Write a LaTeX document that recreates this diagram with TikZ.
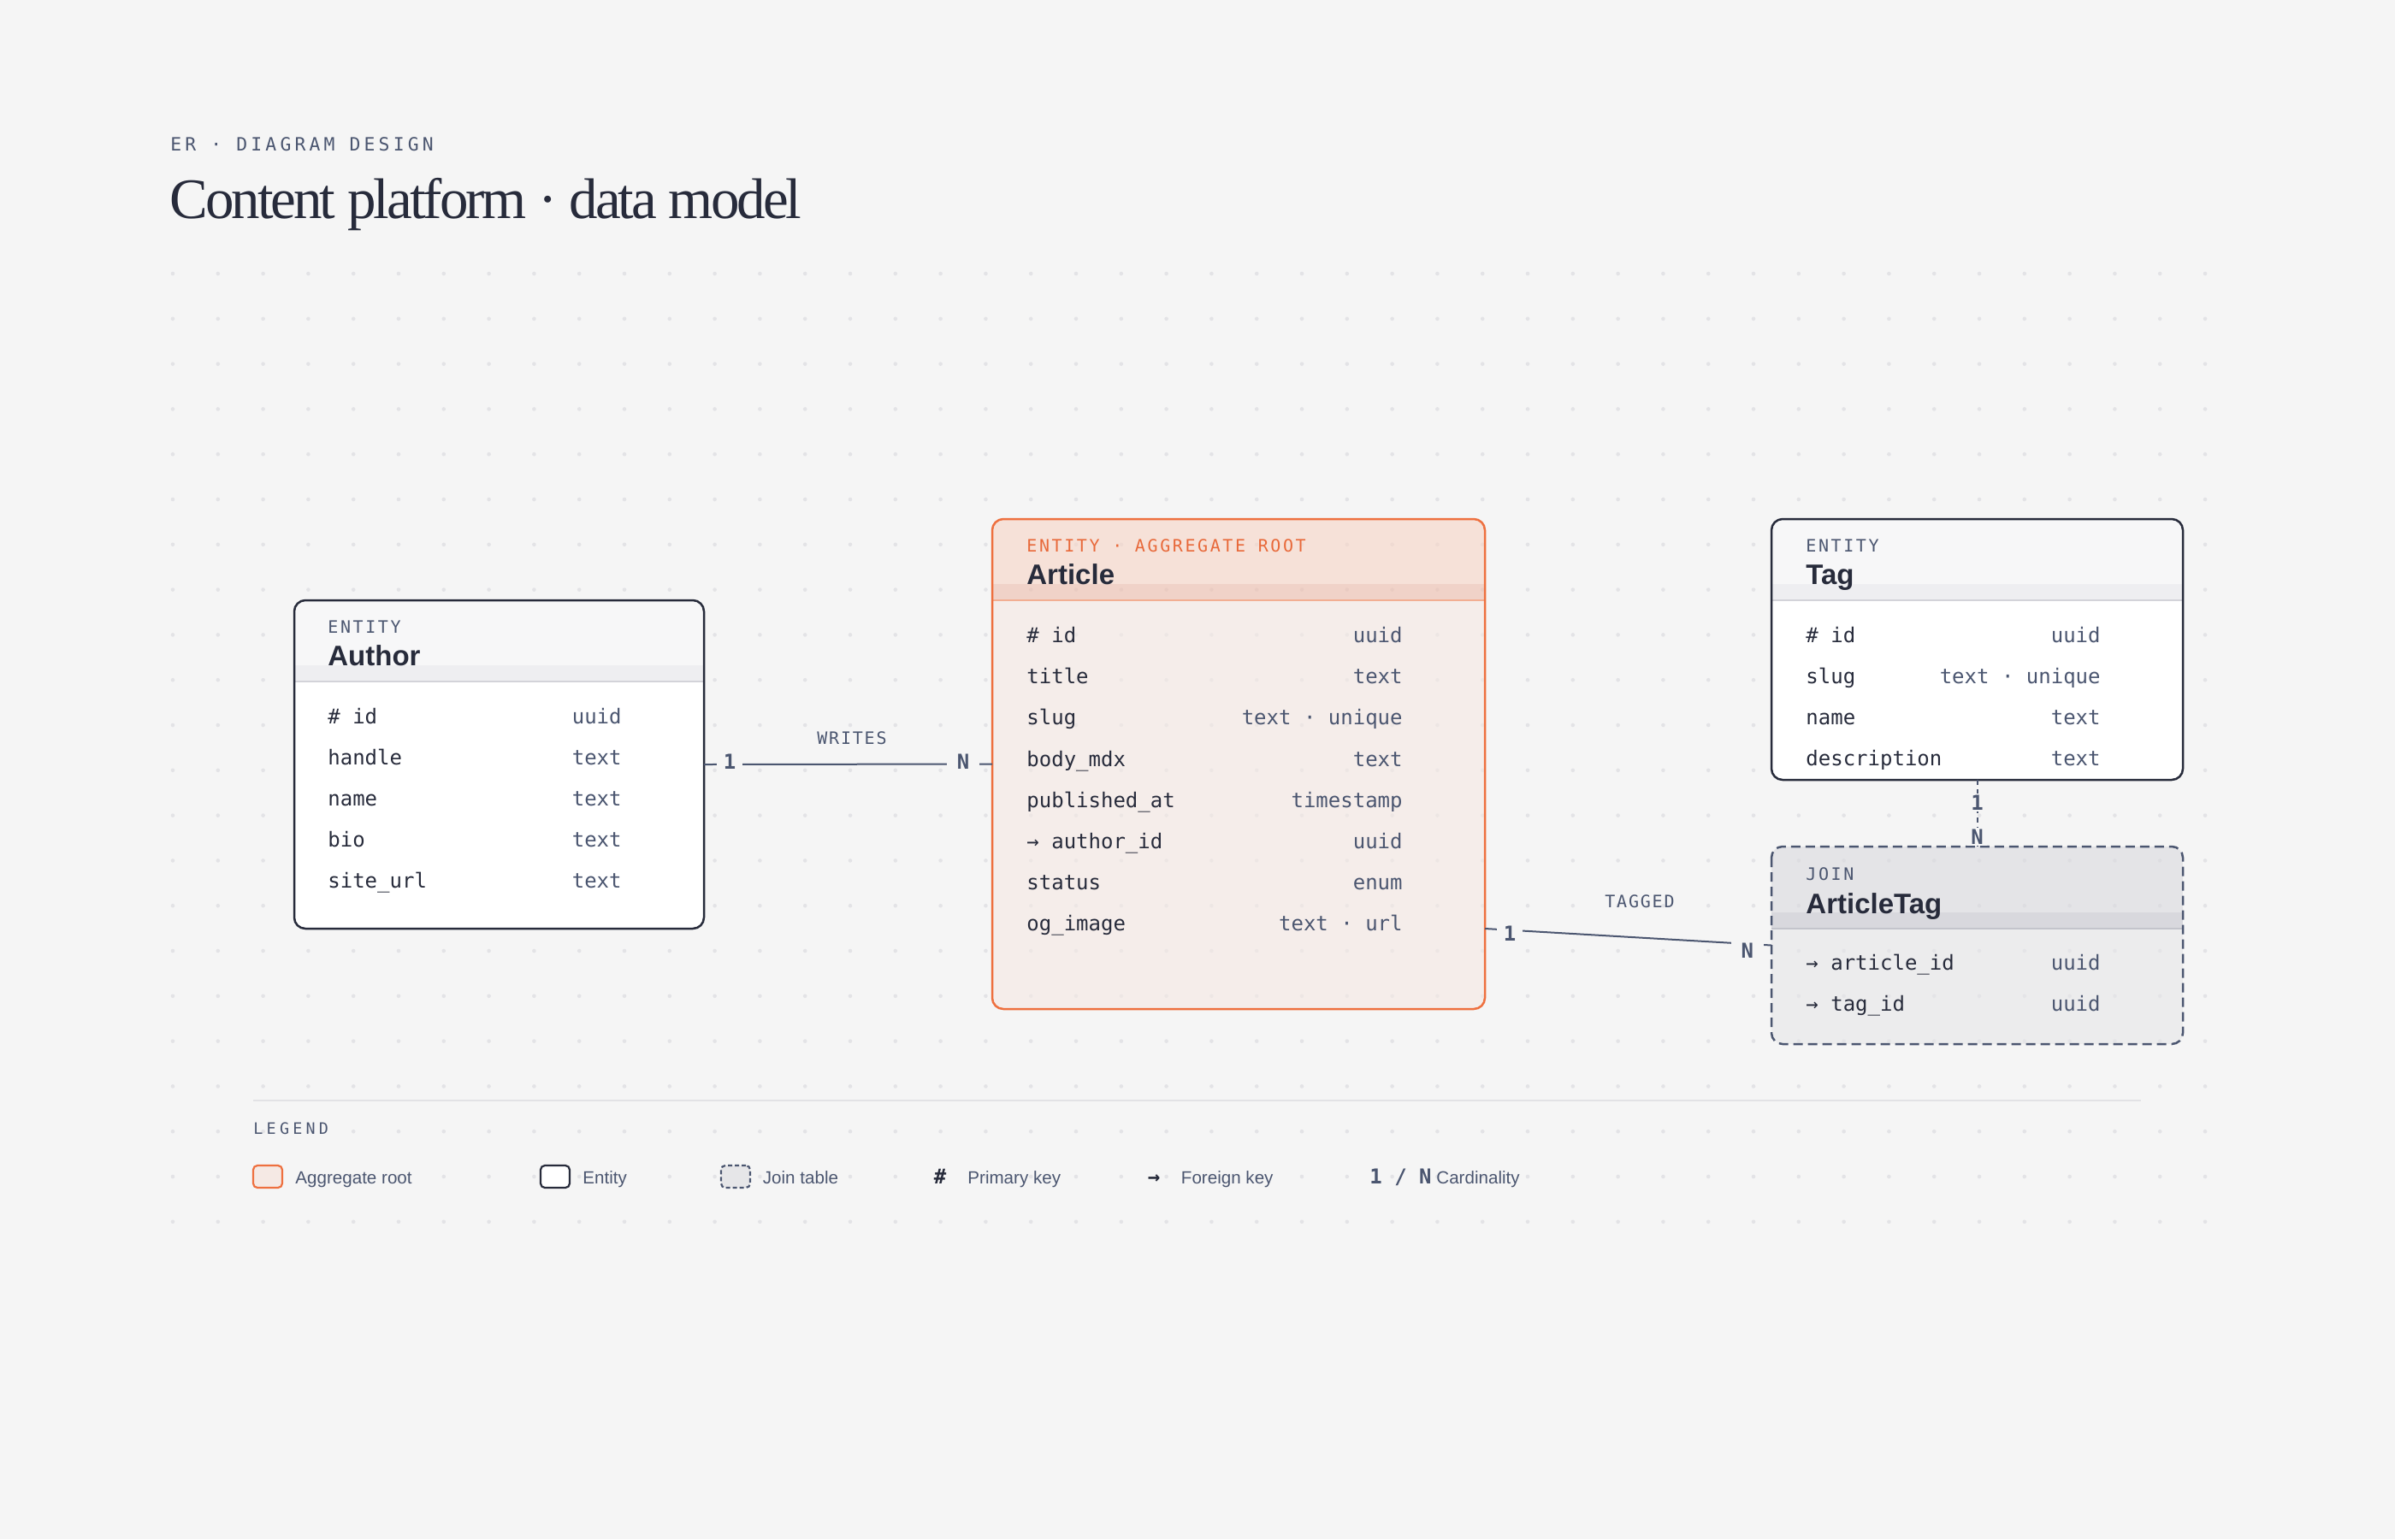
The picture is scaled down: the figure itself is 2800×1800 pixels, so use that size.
\documentclass[tikz,border=0pt]{standalone}
\usepackage{fontspec}
\setmainfont{Liberation Serif}
\setsansfont{Liberation Sans}
\setmonofont{DejaVu Sans Mono}
\usetikzlibrary{calc,positioning}
\definecolor{paper}{HTML}{F5F5F5}
\definecolor{griddot}{HTML}{E3E3E6}
\definecolor{ink}{HTML}{272B3B}
\definecolor{slate}{HTML}{4B5670}
\definecolor{rootline}{HTML}{EE703F}
\definecolor{roottext}{HTML}{E8693A}
\definecolor{roothdr}{HTML}{F7D4C5}
\definecolor{rootband}{HTML}{EEBCAA}
\definecolor{rootbody}{HTML}{F5E9E4}
\definecolor{rootsep}{HTML}{F2AE92}
\definecolor{enthdr}{HTML}{F7F7F8}
\definecolor{entband}{HTML}{EEEEF1}
\definecolor{entsep}{HTML}{D3D3D9}
\definecolor{joinhdr}{HTML}{D9D9DE}
\definecolor{joinband}{HTML}{C6C6CD}
\definecolor{joinbody}{HTML}{E6E6E8}
\definecolor{joinsep}{HTML}{C3C4CB}
\definecolor{legrule}{HTML}{E2E2E5}
\begin{document}
\begin{tikzpicture}[x=0.5pt,y=0.5pt,yscale=-1,xscale=1,
  entbox/.style={inner sep=0pt, outer sep=0pt},
  entline/.style={draw=ink, line width=1.25pt, rounded corners=6.5pt},
  rootframe/.style={draw=rootline, line width=1.25pt, rounded corners=6.5pt},
  joinframe/.style={draw=slate, line width=1.25pt, rounded corners=6.5pt, dash pattern=on 5.5pt off 3pt},
  boxkind/.style={anchor=base west, inner sep=0pt, text=slate, font={\ttfamily\fontsize{10}{12}\selectfont\addfontfeature{LetterSpace=13}}},
  boxname/.style={anchor=base west, inner sep=0pt, text=ink, font={\sffamily\bfseries\fontsize{16.5}{20}\selectfont}},
  fname/.style={anchor=base west, inner sep=0pt, text=ink, font={\ttfamily\fontsize{12}{14}\selectfont}},
  ftype/.style={anchor=base east, inner sep=0pt, text=slate, font={\ttfamily\fontsize{12}{14}\selectfont}},
  relline/.style={draw=slate, line width=1pt},
  card/.style={fill=paper, text=slate, inner xsep=4pt, inner ysep=1pt, font={\ttfamily\bfseries\fontsize{12}{14}\selectfont}},
  cardmany/.style={inner xsep=6pt},
  rellabel/.style={anchor=base, inner sep=0pt, text=slate, font={\ttfamily\fontsize{10}{12}\selectfont\addfontfeature{LetterSpace=9}}},
  swatch/.style={minimum width=17pt, minimum height=13pt, inner sep=0pt, rounded corners=2.5pt, line width=1.1pt},
  legtext/.style={anchor=base west, inner sep=0pt, text=slate, font={\sffamily\fontsize{10.3}{12}\selectfont}},
  legsym/.style={anchor=base, inner sep=0pt, text=ink, font={\ttfamily\bfseries\fontsize{12}{14}\selectfont}}]
%set diagram: 2800 x 1800
\useasboundingbox (0,0) rectangle (2800,1800);
\fill[paper] (0,0) rectangle (2800,1800);

%Dot grid
\foreach \i in {0,...,45} {
  \foreach \j in {0,...,21} {
    \fill[griddot] ({202+\i*52.8},{320+\j*52.8}) circle (2.3);
  }
}

% Text Node
\node[anchor=base west, inner sep=0pt, text=slate, font={\ttfamily\fontsize{10.7}{12}\selectfont\addfontfeature{LetterSpace=19.5}}] (kicker) at (199,176) {ER · DIAGRAM DESIGN};
% Text Node
\node[anchor=base west, inner sep=0pt, text=ink, font={\rmfamily\fontsize{33.5}{40}\selectfont\addfontfeature{LetterSpace=-4.5}}] (headline) at (198,255) {Content platform · data model};

%Shape: Rounded Rect -- Author
\node[entbox, minimum width=239.5pt, minimum height=192pt] (author) at (583.5,894) {};
\fill[white, rounded corners=6.5pt] (author.north west) rectangle (author.south east);
\begin{scope}
\clip[rounded corners=6.5pt] (author.north west) rectangle (author.south east);
\fill[enthdr] (author.north west) rectangle ($(author.north east)+(0,76)$);
\fill[entband] ($(author.north west)+(0,76)$) rectangle ($(author.north east)+(0,95)$);
\end{scope}
\draw[entsep, line width=1pt] ($(author.north west)+(0,95)$) -- ($(author.north east)+(0,95)$);
\draw[entline] (author.north west) rectangle (author.south east);
% Text Node
\node[boxkind] (author-kind) at (383,740) {ENTITY};
\node[boxname] (author-name) at (383,778.5) {Author};
\node[fname] (author-f1) at (383,846) {\# id};
\node[ftype] (author-t1) at (727,846) {uuid};
\node[fname] (author-f2) at (383,894) {handle};
\node[ftype] (author-t2) at (727,894) {text};
\node[fname] (author-f3) at (383,942) {name};
\node[ftype] (author-t3) at (727,942) {text};
\node[fname] (author-f4) at (383,990) {bio};
\node[ftype] (author-t4) at (727,990) {text};
\node[fname] (author-f5) at (383,1038) {site\_url};
\node[ftype] (author-t5) at (727,1038) {text};

%Shape: Rounded Rect -- Article
\node[entbox, minimum width=288pt, minimum height=286.5pt] (article) at (1448,893.5) {};
\begin{scope}
\clip[rounded corners=6.5pt] (article.north west) rectangle (article.south east);
\fill[roothdr, fill opacity=0.6] (article.north west) rectangle ($(article.north east)+(0,76)$);
\fill[rootband, fill opacity=0.6] ($(article.north west)+(0,76)$) rectangle ($(article.north east)+(0,95)$);
\fill[rootbody, fill opacity=0.6] ($(article.north west)+(0,95)$) rectangle (article.south east);
\end{scope}
\draw[rootsep, line width=1pt] ($(article.north west)+(0,95)$) -- ($(article.north east)+(0,95)$);
\draw[rootframe] (article.north west) rectangle (article.south east);
% Text Node
\node[boxkind, text=roottext] (article-kind) at (1200,645) {ENTITY · AGGREGATE ROOT};
\node[boxname] (article-name) at (1200,683.5) {Article};
\node[fname] (article-f1) at (1200,751) {\# id};
\node[ftype] (article-t1) at (1640,751) {uuid};
\node[fname] (article-f2) at (1200,799) {title};
\node[ftype] (article-t2) at (1640,799) {text};
\node[fname] (article-f3) at (1200,847) {slug};
\node[ftype] (article-t3) at (1640,847) {text · unique};
\node[fname] (article-f4) at (1200,896) {body\_mdx};
\node[ftype] (article-t4) at (1640,896) {text};
\node[fname] (article-f5) at (1200,944) {published\_at};
\node[ftype] (article-t5) at (1640,944) {timestamp};
\node[fname] (article-f6) at (1200,992) {→ author\_id};
\node[ftype] (article-t6) at (1640,992) {uuid};
\node[fname] (article-f7) at (1200,1040) {status};
\node[ftype] (article-t7) at (1640,1040) {enum};
\node[fname] (article-f8) at (1200,1088) {og\_image};
\node[ftype] (article-t8) at (1640,1088) {text · url};

%Shape: Rounded Rect -- Tag
\node[entbox, minimum width=240.5pt, minimum height=152.5pt] (tag) at (2311.5,759.5) {};
\fill[white, rounded corners=6.5pt] (tag.north west) rectangle (tag.south east);
\begin{scope}
\clip[rounded corners=6.5pt] (tag.north west) rectangle (tag.south east);
\fill[enthdr] (tag.north west) rectangle ($(tag.north east)+(0,76)$);
\fill[entband] ($(tag.north west)+(0,76)$) rectangle ($(tag.north east)+(0,95)$);
\end{scope}
\draw[entsep, line width=1pt] ($(tag.north west)+(0,95)$) -- ($(tag.north east)+(0,95)$);
\draw[entline] (tag.north west) rectangle (tag.south east);
% Text Node
\node[boxkind] (tag-kind) at (2111,645) {ENTITY};
\node[boxname] (tag-name) at (2111,683.5) {Tag};
\node[fname] (tag-f1) at (2111,751) {\# id};
\node[ftype] (tag-t1) at (2456,751) {uuid};
\node[fname] (tag-f2) at (2111,799) {slug};
\node[ftype] (tag-t2) at (2456,799) {text · unique};
\node[fname] (tag-f3) at (2111,847) {name};
\node[ftype] (tag-t3) at (2456,847) {text};
\node[fname] (tag-f4) at (2111,895) {description};
\node[ftype] (tag-t4) at (2456,895) {text};

%Shape: Rounded Rect -- ArticleTag
\node[entbox, minimum width=240.5pt, minimum height=115.5pt] (articletag) at (2311.5,1105.5) {};
\begin{scope}
\clip[rounded corners=6.5pt] (articletag.north west) rectangle (articletag.south east);
\fill[joinhdr, fill opacity=0.6] (articletag.north west) rectangle ($(articletag.north east)+(0,77)$);
\fill[joinband, fill opacity=0.6] ($(articletag.north west)+(0,77)$) rectangle ($(articletag.north east)+(0,96)$);
\fill[joinbody, fill opacity=0.6] ($(articletag.north west)+(0,96)$) rectangle (articletag.south east);
\end{scope}
\draw[joinsep, line width=1pt] ($(articletag.north west)+(0,96)$) -- ($(articletag.north east)+(0,96)$);
\draw[joinframe] (articletag.north west) rectangle (articletag.south east);
% Text Node
\node[boxkind] (articletag-kind) at (2111,1029) {JOIN};
\node[boxname] (articletag-name) at (2111,1068) {ArticleTag};
\node[fname] (articletag-f1) at (2111,1134) {→ article\_id};
\node[ftype] (articletag-t1) at (2456,1134) {uuid};
\node[fname] (articletag-f2) at (2111,1182) {→ tag\_id};
\node[ftype] (articletag-t2) at (2456,1182) {uuid};

%Straight Lines -- WRITES
\draw[relline] (author.east) -- node[card, pos=0.089, yshift=1.5pt] (writes-one) {1} node[card, cardmany, pos=0.899, yshift=1.5pt] (writes-many) {N} (article.west);
\node[rellabel] (writes) at (996,870.5) {WRITES};

%Straight Lines -- TAGGED
\coordinate (article-out) at ($(article.east)+(0,192.5)$);
\draw[relline] (article-out) -- node[card, pos=0.087, yshift=-2pt] (tagged-one) {1} node[card, cardmany, pos=0.916, yshift=-3.8pt] (tagged-many) {N} (articletag.west);
\node[rellabel] (tagged) at (1917,1061.5) {TAGGED};

%Straight Lines -- Tag to ArticleTag
\draw[relline, dash pattern=on 3pt off 2.5pt] (tag.south) -- node[card, inner xsep=2pt, pos=0.34] (join-one) {1} node[card, inner xsep=2pt, pos=0.85] (join-many) {N} (articletag.north);

%Legend
\draw[legrule, line width=1pt] (296,1287) -- (2503,1287);
% Text Node
\node[anchor=base west, inner sep=0pt, text=slate, font={\ttfamily\fontsize{9.2}{11}\selectfont\addfontfeature{LetterSpace=23}}] (legend) at (296,1326) {LEGEND};
\node[swatch, draw=rootline, fill=rootbody] (legend-root) at (313,1376) {};
\node[legtext] (legend-root-txt) at (345,1384) {Aggregate root};
\node[swatch, draw=ink, fill=white] (legend-entity) at (649,1376) {};
\node[legtext] (legend-entity-txt) at (681,1384) {Entity};
\node[swatch, draw=slate, fill=joinbody, dash pattern=on 2.5pt off 1.5pt] (legend-join) at (860,1376) {};
\node[legtext] (legend-join-txt) at (891.5,1384) {Join table};
\node[legsym] (legend-pk) at (1099,1384) {\#};
\node[legtext] (legend-pk-txt) at (1131,1384) {Primary key};
\node[legsym] (legend-fk) at (1349,1384) {→};
\node[legtext] (legend-fk-txt) at (1380.5,1384) {Foreign key};
\node[legsym, anchor=base west, text=slate] (legend-card) at (1601,1384) {1 / N};
\node[legtext] (legend-card-txt) at (1679,1384) {Cardinality};

\end{tikzpicture}
\end{document}
